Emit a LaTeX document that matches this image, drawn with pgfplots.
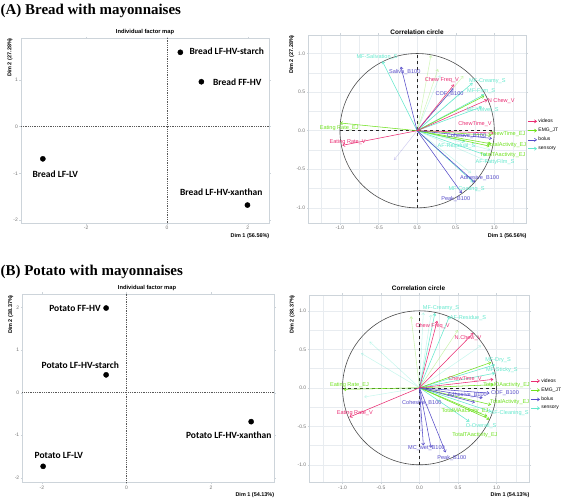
\documentclass[border=0pt]{standalone}
\usepackage{fontspec}
\setmainfont{Liberation Sans}
\newfontfamily\calib{Carlito}
\newfontfamily\timesf{Liberation Serif}
\usepackage{pgfplots}
\pgfplotsset{compat=1.18}
\usetikzlibrary{arrows.meta}

\definecolor{cvid}{RGB}{233,45,115}
\definecolor{cemg}{RGB}{110,225,30}
\definecolor{cbol}{RGB}{85,75,200}
\definecolor{csen}{RGB}{100,232,205}
\definecolor{brd}{RGB}{205,212,218}
\definecolor{grd}{RGB}{232,236,240}
\definecolor{tck}{RGB}{115,115,115}

\pgfplotsset{
  base/.style={scale only axis, clip=false,
    axis line style={brd, line width=0.6pt},
    tick style={brd, line width=0.4pt}, tick align=outside,
    major tick length=1.5bp, minor tick length=0pt,
    ticklabel style={font=\fontsize{5}{6}\selectfont, text=tck, inner sep=1.5pt},
    /pgf/number format/assume math mode=true},
  cor/.style={base, grid=both,
    major grid style={grd, line width=0.5pt},
    minor grid style={grd, line width=0.3pt},
    xtick={-1,-0.5,0,0.5,1}, ytick={-1,-0.5,0,0.5,1},
    minor xtick={-1.25,-0.75,-0.25,0.25,0.75,1.25},
    minor ytick={-1.25,-0.75,-0.25,0.25,0.75,1.25},
    xticklabel style={/pgf/number format/.cd, fixed, fixed zerofill, precision=1},
    yticklabel style={/pgf/number format/.cd, fixed, fixed zerofill, precision=1},
    legend style={at={(axis description cs:1.004,0.47)}, anchor=west, draw=none, fill=none,
      font=\fontsize{5}{6}\selectfont, row sep=2.2bp, inner sep=0pt,
      nodes={inner sep=1pt}},
    legend cell align=left},
  arr/.style={line width=0.55pt, -{Straight Barb[length=2.2bp,width=3.2bp]}},
  lkey/.style={legend image code/.code={\draw[#1, line width=0.6pt, -{Straight Barb[length=2.2bp,width=3.2bp]}] (0bp,0bp) -- (9bp,0bp);}},
  pt/.style={only marks, mark=*, mark size=2.6bp, black,
    nodes near coords style={font=\calib\bfseries\fontsize{9.5}{11}\selectfont, inner sep=0pt, text=black}},
}
\tikzset{lab/.style={font=\fontsize{5.6}{6.5}\selectfont, inner sep=0pt}}

\begin{document}
\begin{tikzpicture}
\path[use as bounding box] (0bp,0bp) rectangle (564bp,498bp);

% ---------- titles ----------
\node[anchor=base west, inner sep=0pt, font=\timesf\bfseries\fontsize{15}{17}\selectfont] at (0.5bp,483bp) {(A) Bread with mayonnaises};
\node[anchor=base west, inner sep=0pt, font=\timesf\bfseries\fontsize{15}{17}\selectfont] at (0.5bp,222bp) {(B) Potato with mayonnaises};

% ---------- (A) individual factor map ----------
\begin{axis}[base, at={(21bp,274.7bp)}, anchor=south west, width=248.3bp, height=185bp,
  xmin=-3.61, xmax=2.53, ymin=-2.07, ymax=1.89,
  xtick={-2,0,2}, ytick={-2,-1,0,1}]
\draw[densely dotted, black!65, line width=0.8pt] (axis cs:-3.61,0) -- (axis cs:2.53,0);
\draw[densely dotted, black!65, line width=0.8pt] (axis cs:0,-2.07) -- (axis cs:0,1.89);
\addplot[pt, nodes near coords={Bread LF-HV-starch}, nodes near coords style={anchor=west, xshift=9bp, yshift=1bp}] coordinates {(0.33,1.59)};
\addplot[pt, nodes near coords={Bread FF-HV}, nodes near coords style={anchor=west, xshift=11.5bp, yshift=0bp}] coordinates {(0.85,0.96)};
\addplot[pt, nodes near coords={Bread LF-LV}, nodes near coords style={anchor=center, xshift=12.4bp, yshift=-15.7bp}] coordinates {(-3.07,-0.69)};
\addplot[pt, nodes near coords={Bread LF-HV-xanthan}, nodes near coords style={anchor=center, xshift=-26.2bp, yshift=12.7bp}] coordinates {(1.99,-1.68)};
\end{axis}

% ---------- (A) correlation circle ----------
\begin{axis}[cor, at={(308.3bp,274.7bp)}, anchor=south west, width=218.4bp, height=188.3bp,
  xmin=-1.41, xmax=1.42, ymin=-1.20, ymax=1.24]
\addlegendimage{lkey=cvid}\addlegendentry{videos}
\addlegendimage{lkey=cemg}\addlegendentry{EMG\_JT}
\addlegendimage{lkey=cbol}\addlegendentry{bolus}
\addlegendimage{lkey=csen}\addlegendentry{sensory}
\draw[black!70, line width=0.6pt] (axis cs:0,0) ellipse [x radius=1, y radius=1];
\draw[dashed, black!85, line width=0.5pt] (axis cs:-1,0) -- (axis cs:1,0);
\draw[dashed, black!85, line width=0.5pt] (axis cs:0,-1) -- (axis cs:0,1);
% faint arrows
\addplot[arr, cemg, opacity=0.3] coordinates {(0,0) (0.18,0.98)};
\addplot[arr, cemg, opacity=0.3] coordinates {(0,0) (0.27,0.80)};
\addplot[arr, cemg, opacity=0.3] coordinates {(0,0) (0.60,0.71)};
\addplot[arr, cbol, opacity=0.25] coordinates {(0,0) (-0.30,-0.38)};
\addplot[arr, csen, opacity=0.35] coordinates {(0,0) (0.30,0.72)};
\addplot[arr, csen, opacity=0.35] coordinates {(0,0) (0.55,0.48)};
\addplot[arr, csen, opacity=0.35] coordinates {(0,0) (0.92,-0.40)};
\addplot[arr, csen, opacity=0.35] coordinates {(0,0) (0.70,-0.55)};
\addplot[arr, csen, opacity=0.35] coordinates {(0,0) (0.95,-0.25)};
% sensory
\addplot[arr, csen] coordinates {(0,0) (-0.45,0.90)};
\addplot[arr, csen] coordinates {(0,0) (0.72,0.62)};
\addplot[arr, csen] coordinates {(0,0) (0.87,0.47)};
\addplot[arr, csen] coordinates {(0,0) (0.84,0.31)};
\addplot[arr, csen] coordinates {(0,0) (0.62,-0.14)};
\addplot[arr, csen] coordinates {(0,0) (0.90,-0.32)};
\addplot[arr, csen] coordinates {(0,0) (0.73,-0.67)};
% EMG
\addplot[arr, cemg] coordinates {(0,0) (-1.00,0.10)};
\addplot[arr, cemg] coordinates {(0,0) (0.96,-0.06)};
\addplot[arr, cemg] coordinates {(0,0) (0.96,-0.17)};
\addplot[arr, cemg] coordinates {(0,0) (0.94,-0.20)};
\addplot[arr, cemg] coordinates {(0,0) (0.87,0.45)};
% bolus
\addplot[arr, cbol] coordinates {(0,0) (-0.21,0.83)};
\addplot[arr, cbol] coordinates {(0,0) (0.47,0.55)};
\addplot[arr, cbol] coordinates {(0,0) (0.97,-0.10)};
\addplot[arr, cbol] coordinates {(0,0) (0.75,-0.67)};
\addplot[arr, cbol] coordinates {(0,0) (0.58,-0.81)};
% videos
\addplot[arr, cvid] coordinates {(0,0) (0.48,0.60)};
\addplot[arr, cvid] coordinates {(0,0) (0.91,0.40)};
\addplot[arr, cvid] coordinates {(0,0) (0.99,-0.03)};
\addplot[arr, cvid] coordinates {(0,0) (-0.97,-0.19)};
% labels
\node[lab, text=csen] at (axis cs:-0.52,0.95) {MF-Salivation\_S};
\node[lab, text=csen] at (axis cs:0.91,0.64) {MF-Creamy\_S};
\node[lab, text=csen] at (axis cs:0.83,0.51) {MF-Firm\_S};
\node[lab, text=csen] at (axis cs:0.85,0.27) {MF-Velvet\_S};
\node[lab, text=csen] at (axis cs:0.51,-0.20) {AF-Residual\_S};
\node[lab, text=csen] at (axis cs:1.01,-0.41) {AF-FattyFilm\_S};
\node[lab, text=csen] at (axis cs:0.64,-0.76) {MF-Coating\_S};
\node[lab, text=cemg] at (axis cs:-1.01,0.04) {Eating Rate\_EJ};
\node[lab, text=cemg] at (axis cs:1.17,-0.04) {ChewTime\_EJ};
\node[lab, text=cemg] at (axis cs:1.16,-0.19) {TotalActivity\_EJ};
\node[lab, text=cemg] at (axis cs:1.11,-0.31) {TotalTAactivity\_EJ};
\node[lab, text=cbol] at (axis cs:-0.16,0.76) {Saliva\_B100};
\node[lab, text=cbol] at (axis cs:0.42,0.48) {COF\_B100};
\node[lab, text=cbol] at (axis cs:0.64,-0.07) {Cohesive\_B100};
\node[lab, text=cbol] at (axis cs:0.81,-0.61) {Adhesive\_B100};
\node[lab, text=cbol] at (axis cs:0.50,-0.89) {Peak\_B100};
\node[lab, text=cvid] at (axis cs:0.32,0.65) {Chew Freq\_V};
\node[lab, text=cvid] at (axis cs:1.09,0.39) {N Chew\_V};
\node[lab, text=cvid] at (axis cs:0.75,0.08) {ChewTime\_V};
\node[lab, text=cvid] at (axis cs:-0.90,-0.15) {Eating Rate\_V};
\end{axis}

% ---------- (B) individual factor map ----------
\begin{axis}[base, at={(22.4bp,15.5bp)}, anchor=south west, width=252bp, height=188.5bp,
  xmin=-2.46, xmax=3.50, ymin=-2.11, ymax=2.32,
  xtick={-2,0,2}, ytick={-2,-1,0,1,2}]
\draw[densely dotted, black!65, line width=0.8pt] (axis cs:-2.46,0) -- (axis cs:3.50,0);
\draw[densely dotted, black!65, line width=0.8pt] (axis cs:0,-2.11) -- (axis cs:0,2.32);
\addplot[pt, nodes near coords={Potato FF-HV}, nodes near coords style={anchor=east, xshift=-5.3bp}] coordinates {(-0.48,1.99)};
\addplot[pt, nodes near coords={Potato LF-HV-starch}, nodes near coords style={anchor=center, xshift=-25.8bp, yshift=10bp}] coordinates {(-0.48,0.42)};
\addplot[pt, nodes near coords={Potato LF-HV-xanthan}, nodes near coords style={anchor=center, xshift=-22.4bp, yshift=-13.3bp}] coordinates {(2.95,-0.68)};
\addplot[pt, nodes near coords={Potato LF-LV}, nodes near coords style={anchor=center, xshift=15.7bp, yshift=10.6bp}] coordinates {(-1.97,-1.73)};
\end{axis}

% ---------- (B) correlation circle ----------
\begin{axis}[cor, at={(309.4bp,15.5bp)}, anchor=south west, width=220.2bp, height=187.5bp,
  xmin=-1.43, xmax=1.43, ymin=-1.23, ymax=1.205]
\addlegendimage{lkey=cvid}\addlegendentry{videos}
\addlegendimage{lkey=cemg}\addlegendentry{EMG\_JT}
\addlegendimage{lkey=cbol}\addlegendentry{bolus}
\addlegendimage{lkey=csen}\addlegendentry{sensory}
\draw[black!70, line width=0.6pt] (axis cs:0,0) ellipse [x radius=1, y radius=1];
\draw[dashed, black!85, line width=0.5pt] (axis cs:-1,0) -- (axis cs:1,0);
\draw[dashed, black!85, line width=0.5pt] (axis cs:0,-1) -- (axis cs:0,1);
% faint arrows
\addplot[arr, csen, opacity=0.35] coordinates {(0,0) (-0.65,0.60)};
\addplot[arr, csen, opacity=0.35] coordinates {(0,0) (-0.76,0.45)};
\addplot[arr, csen, opacity=0.35] coordinates {(0,0) (-0.72,-0.12)};
\addplot[arr, csen, opacity=0.35] coordinates {(0,0) (0.80,0.55)};
\addplot[arr, csen, opacity=0.35] coordinates {(0,0) (0.05,0.98)};
\addplot[arr, csen, opacity=0.35] coordinates {(0,0) (0.15,0.95)};
\addplot[arr, cemg, opacity=0.35] coordinates {(0,0) (-0.11,0.93)};
\addplot[arr, cemg, opacity=0.35] coordinates {(0,0) (0.50,0.75)};
\addplot[arr, cbol, opacity=0.25] coordinates {(0,0) (0.02,-0.57)};
% sensory
\addplot[arr, csen] coordinates {(0,0) (0.20,0.97)};
\addplot[arr, csen] coordinates {(0,0) (0.39,0.93)};
\addplot[arr, csen] coordinates {(0,0) (0.98,0.30)};
\addplot[arr, csen] coordinates {(0,0) (0.98,0.19)};
\addplot[arr, csen] coordinates {(0,0) (0.93,-0.31)};
\addplot[arr, csen] coordinates {(0,0) (0.65,-0.44)};
% EMG
\addplot[arr, cemg] coordinates {(0,0) (-0.99,-0.02)};
\addplot[arr, cemg] coordinates {(0,0) (0.96,0.04)};
\addplot[arr, cemg] coordinates {(0,0) (0.93,-0.22)};
\addplot[arr, cemg] coordinates {(0,0) (0.88,-0.37)};
\addplot[arr, cemg] coordinates {(0,0) (0.91,-0.41)};
\addplot[arr, cemg] coordinates {(0,0) (0.93,0.33)};
% bolus
\addplot[arr, cbol] coordinates {(0,0) (0.91,-0.07)};
\addplot[arr, cbol] coordinates {(0,0) (0.72,-0.19)};
\addplot[arr, cbol] coordinates {(0,0) (0.82,-0.13)};
\addplot[arr, cbol] coordinates {(0,0) (0.15,-0.78)};
\addplot[arr, cbol] coordinates {(0,0) (0.34,-0.84)};
\addplot[arr, cbol] coordinates {(0,0) (0.05,-0.75)};
% videos
\addplot[arr, cvid] coordinates {(0,0) (0.23,0.87)};
\addplot[arr, cvid] coordinates {(0,0) (0.70,0.71)};
\addplot[arr, cvid] coordinates {(0,0) (0.96,0.11)};
\addplot[arr, cvid] coordinates {(0,0) (-0.91,-0.38)};
% labels
\node[lab, text=csen] at (axis cs:0.28,1.03) {MF-Creamy\_S};
\node[lab, text=csen] at (axis cs:0.63,0.91) {AF-Residue\_S};
\node[lab, text=csen] at (axis cs:1.02,0.36) {MF-Dry\_S};
\node[lab, text=csen] at (axis cs:1.07,0.23) {MF-Sticky\_S};
\node[lab, text=csen] at (axis cs:1.17,-0.33) {AF-Cleaning\_S};
\node[lab, text=csen] at (axis cs:0.80,-0.50) {O-Overall\_S};
\node[lab, text=cemg] at (axis cs:-0.91,0.03) {Eating Rate\_EJ};
\node[lab, text=cemg] at (axis cs:1.13,0.03) {TotalOAactivity\_EJ};
\node[lab, text=cemg] at (axis cs:1.17,-0.19) {TotalActivity\_EJ};
\node[lab, text=cemg] at (axis cs:0.59,-0.30) {TotalMAactivity\_EJ};
\node[lab, text=cemg] at (axis cs:0.72,-0.61) {TotalTAactivity\_EJ};
\node[lab, text=cbol] at (axis cs:1.11,-0.07) {COF\_B100};
\node[lab, text=cbol] at (axis cs:0.62,-0.10) {Adhesive\_B100};
\node[lab, text=cbol] at (axis cs:0.03,-0.20) {Cohesive\_B100};
\node[lab, text=cbol] at (axis cs:0.09,-0.78) {MC\_wet\_B100};
\node[lab, text=cbol] at (axis cs:0.42,-0.91) {Peak\_B100};
\node[lab, text=cvid] at (axis cs:0.17,0.80) {Chew Freq\_V};
\node[lab, text=cvid] at (axis cs:0.63,0.65) {N.Chew\_V};
\node[lab, text=cvid] at (axis cs:0.59,0.12) {ChewTime\_V};
\node[lab, text=cvid] at (axis cs:-0.84,-0.33) {Eating Rate\_V};
\end{axis}

% ---------- panel titles ----------
\node[font=\bfseries\fontsize{5.8}{7}\selectfont, inner sep=0pt] at (145bp,465.7bp) {Individual factor map};
\node[font=\bfseries\fontsize{6.5}{8}\selectfont, inner sep=0pt] at (417bp,465.7bp) {Correlation circle};
\node[font=\bfseries\fontsize{5.8}{7}\selectfont, inner sep=0pt] at (147bp,209.7bp) {Individual factor map};
\node[font=\bfseries\fontsize{6.5}{8}\selectfont, inner sep=0pt] at (418.5bp,209.7bp) {Correlation circle};

% ---------- axis titles ----------
\node[font=\bfseries\fontsize{5.5}{6.5}\selectfont, inner sep=0pt, rotate=90, anchor=east] at (10bp,460bp) {Dim 2 (27.28\%)};
\node[font=\bfseries\fontsize{5.5}{6.5}\selectfont, inner sep=0pt, rotate=90, anchor=east] at (291.7bp,463bp) {Dim 2 (27.28\%)};
\node[font=\bfseries\fontsize{5.5}{6.5}\selectfont, inner sep=0pt, rotate=90, anchor=east] at (10.7bp,203bp) {Dim 2 (38.37\%)};
\node[font=\bfseries\fontsize{5.5}{6.5}\selectfont, inner sep=0pt, rotate=90, anchor=east] at (292.3bp,203bp) {Dim 2 (38.37\%)};
\node[font=\bfseries\fontsize{5.5}{6.5}\selectfont, inner sep=0pt, anchor=east] at (269.5bp,262.3bp) {Dim 1 (56.56\%)};
\node[font=\bfseries\fontsize{5.5}{6.5}\selectfont, inner sep=0pt, anchor=east] at (526.7bp,262.3bp) {Dim 1 (56.56\%)};
\node[font=\bfseries\fontsize{5.5}{6.5}\selectfont, inner sep=0pt, anchor=east] at (274.4bp,2.8bp) {Dim 1 (54.13\%)};
\node[font=\bfseries\fontsize{5.5}{6.5}\selectfont, inner sep=0pt, anchor=east] at (529.6bp,2.8bp) {Dim 1 (54.13\%)};
\end{tikzpicture}
\end{document}
